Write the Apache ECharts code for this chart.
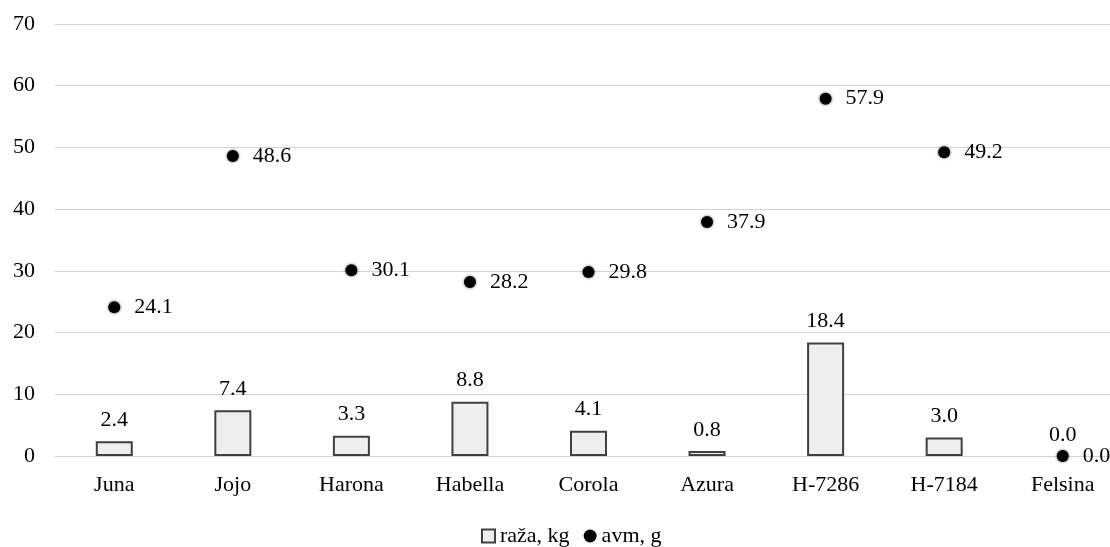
<!DOCTYPE html>
<html>
<head>
<meta charset="utf-8">
<script src="https://cdn.jsdelivr.net/npm/echarts@6/dist/echarts.min.js"></script>
<style>
  html, body { margin: 0; padding: 0; background: #fff; }
  #chart { width: 1110px; height: 547px; }
</style>
</head>
<body>
<div id="chart"></div>
<script>
// Cultivars along the x axis
const categories = ['Juna', 'Jojo', 'Harona', 'Habella', 'Corola', 'Azura', 'H-7286', 'H-7184', 'Felsina'];
// Rust damage, kg (bars)
const razaKg = [2.4, 7.4, 3.3, 8.8, 4.1, 0.8, 18.4, 3.0, 0.0];
// avm, g (points)
const avmG = [24.1, 48.6, 30.1, 28.2, 29.8, 37.9, 57.9, 49.2, 0.0];
// Value axis ticks
const yTicks = [0, 10, 20, 30, 40, 50, 60, 70];

const font = 'Liberation Serif, Times New Roman, serif';
const fs = 22;
const ink = '#000';
const chart = echarts.init(document.getElementById('chart'), null, { renderer: 'canvas' });

// zero-height bars get no outline, so only their label remains
const barData = razaKg.map(v => (v === 0 ? { value: v, itemStyle: { borderWidth: 0 } } : v));

chart.setOption({
  animation: false,
  textStyle: { fontFamily: font },
  // plot area runs a little past the right edge of the canvas
  grid: { left: 55, width: 1067, top: 24, height: 432, outerBoundsMode: 'none', containLabel: false },
  legend: {
    top: 525,
    left: 481,
    padding: 0,
    itemGap: 14,
    itemWidth: 13,
    itemHeight: 13,
    textStyle: { fontFamily: font, fontSize: fs, color: ink },
    data: [
      { name: 'raža, kg', icon: 'rect', itemStyle: { color: '#eeeeee', borderColor: '#404040', borderWidth: 2 } },
      { name: 'avm, g', icon: 'circle', itemStyle: { color: '#000' } }
    ]
  },
  xAxis: {
    type: 'category',
    data: categories,
    axisLine: { show: true, lineStyle: { color: '#d4d4d4', width: 1 } },
    axisTick: { show: false },
    axisLabel: { fontFamily: font, fontSize: fs, color: ink, margin: 18 }
  },
  yAxis: {
    type: 'value',
    min: yTicks[0],
    max: yTicks[yTicks.length - 1],
    interval: 10,
    axisLine: { show: false },
    axisTick: { show: false },
    axisLabel: { fontFamily: font, fontSize: fs, color: ink, margin: 20 },
    splitLine: { lineStyle: { color: '#d4d4d4', width: 1 } }
  },
  series: [
    {
      name: 'raža, kg',
      type: 'bar',
      data: barData,
      barWidth: 37,
      itemStyle: { color: '#eeeeee', borderColor: '#404040', borderWidth: 2 },
      label: {
        show: true,
        position: 'top',
        distance: 10,
        fontFamily: font,
        fontSize: fs,
        color: ink,
        formatter: p => p.value.toFixed(1)
      },
      z: 2
    },
    {
      name: 'avm, g',
      type: 'scatter',
      data: avmG,
      symbol: 'circle',
      symbolSize: 12,
      itemStyle: { color: '#000', opacity: 1, shadowBlur: 3, shadowColor: 'rgba(0,0,0,0.6)' },
      label: {
        show: true,
        position: 'right',
        distance: 14,
        fontFamily: font,
        fontSize: fs,
        color: ink,
        formatter: p => p.value.toFixed(1)
      },
      z: 3
    }
  ]
});
</script>
</body>
</html>
